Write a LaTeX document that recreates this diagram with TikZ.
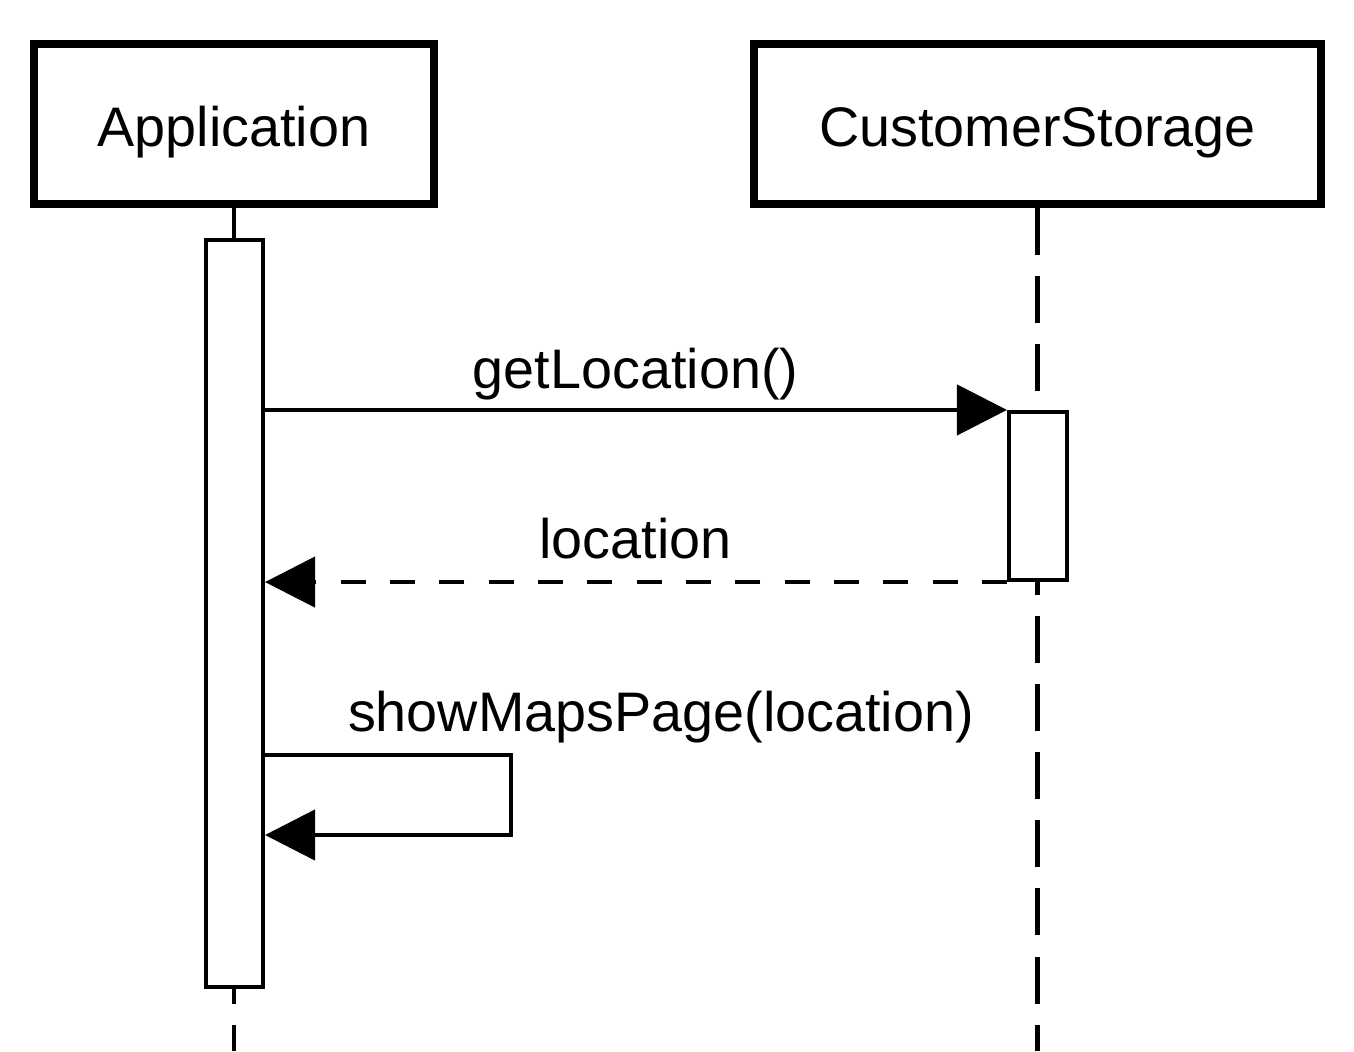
\documentclass[tikz,border=0pt]{standalone}
\usepackage{fontspec}
\setmainfont{Liberation Sans}
\usepackage{tikz}
\usetikzlibrary{arrows.meta}
\newcommand{\SEQFONT}{\fontsize{15.85pt}{19pt}\selectfont}

\begin{document}
\begin{tikzpicture}[x=0.01cm,y=-0.01cm,
  objbox/.style={draw,line width=0.08cm,fill=white,font=\SEQFONT,text height=0.44cm,text depth=0pt,inner sep=0pt},
  actbox/.style={draw,line width=0.045cm,fill=white,inner sep=0pt},
  lifeline/.style={line width=0.045cm,dash pattern=on 0.47cm off 0.21cm},
  msg/.style={line width=0.045cm,-{Triangle[length=0.5cm,width=0.5cm]}},
  retmsg/.style={msg,dash pattern=on 0.25cm off 0.243cm},
  msglabel/.style={font=\SEQFONT,anchor=base,inner sep=0pt}]
  \useasboundingbox (0,0) rectangle (1354,1051);

  %% ── objects ──
  \node[objbox,minimum width=4.00cm,minimum height=1.60cm] (app) at (234,124) {Application};
  \node[objbox,minimum width=5.67cm,minimum height=1.60cm] (store) at (1037.5,124) {CustomerStorage};
  \coordinate (bottom) at (0,1051);

  %% ── lifelines ──
  \draw[lifeline] (app.south) -- (app.south |- bottom);
  \draw[lifeline] (store.south) -- (store.south |- bottom);

  %% ── activations ──
  \node[actbox,minimum width=0.565cm,minimum height=7.465cm] (appact) at (234.5,613.5) {};
  \node[actbox,minimum width=0.575cm,minimum height=1.675cm] (storeact) at (1038,496) {};

  %% ── getLocation() ──
  \draw[msg] (appact.east |- storeact.north) -- (storeact.north west);
  \node[msglabel] (getlbl) at (635.5,388) {getLocation()};

  %% ── location ──
  \draw[retmsg] (storeact.south west) -- (appact.east |- storeact.south);
  \node[msglabel] (retlbl) at (635.5,558) {location};

  %% ── showMapsPage(location) ──
  \coordinate (selftop) at (511,755);
  \coordinate (selfbot) at (511,835);
  \draw[msg] (appact.east |- selftop) -- (selftop) -- (selfbot) -- (appact.east |- selfbot);
  \node[msglabel] (selflbl) at (661,731) {showMapsPage(location)};
\end{tikzpicture}
\end{document}
